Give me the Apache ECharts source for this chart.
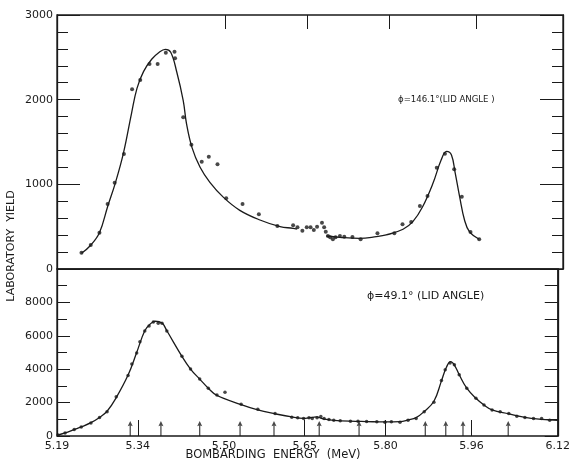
<!DOCTYPE html>
<html>
<head>
<meta charset="utf-8">
<script src="https://cdn.jsdelivr.net/npm/echarts@6/dist/echarts.min.js"></script>
<style>
  html, body { margin: 0; padding: 0; background: #fff; }
  #chart { width: 573px; height: 461px; }
</style>
</head>
<body>
<div id="chart"></div>
<script>
// energy tick labels (MeV)
const energyLabels = [5.19, 5.34, 5.50, 5.65, 5.80, 5.96, 6.12];

// phi = 146.1 deg, measured points
const topPointE = [5.235, 5.252, 5.268, 5.283, 5.296, 5.313, 5.328, 5.343, 5.360, 5.375,
  5.390, 5.406, 5.407, 5.422, 5.437, 5.456, 5.469, 5.485, 5.501, 5.531, 5.561, 5.595,
  5.624, 5.632, 5.641, 5.649, 5.656, 5.662, 5.668, 5.677, 5.681, 5.684, 5.688, 5.692,
  5.697, 5.702, 5.710, 5.718, 5.733, 5.748, 5.779, 5.810, 5.825, 5.841, 5.857, 5.871,
  5.888, 5.903, 5.920, 5.934, 5.950, 5.966];
const topPointY = [193, 283, 429, 768, 1020, 1358, 2122, 2232, 2421, 2421,
  2555, 2567, 2488, 1791, 1468, 1267, 1326, 1236, 835, 768, 646, 508,
  516, 492, 453, 492, 492, 461, 500, 547, 492, 441, 390, 374,
  351, 374, 390, 382, 378, 351, 421, 421, 528, 555, 744, 862,
  1197, 1362, 1177, 854, 437, 351];

// phi = 146.1 deg, fitted curve (null = pen lifted)
const topCurveE = [5.235, 5.251, 5.268, 5.283, 5.297, 5.312, 5.327, 5.337, 5.349, 5.364,
  5.379, 5.389, 5.399, 5.410, 5.422, 5.428, 5.438, 5.453, 5.471, 5.496, 5.526, 5.563,
  5.600, 5.624, 5.631, 5.660, 5.685, 5.710, 5.746, 5.777, 5.795, 5.826, 5.844,
  5.862, 5.881, 5.896, 5.906, 5.915, 5.922, 5.930, 5.939, 5.948, 5.966];
const topCurveY = [185, 275, 429, 736, 1012, 1366, 1839, 2134, 2331, 2477,
  2567, 2595, 2560, 2330, 1990, 1717, 1437, 1201, 1024, 846, 693, 579,
  500, 481, 470, null, 390, 374, 362, 382, 402, 469, 559,
  736, 1012, 1287, 1390, 1346, 1130, 854, 579, 441, 351];

// phi = 49.1 deg, measured points
const botPointE = [5.192, 5.205, 5.222, 5.235, 5.253, 5.269, 5.283, 5.300, 5.322, 5.329,
  5.338, 5.344, 5.353, 5.361, 5.369, 5.378, 5.385, 5.394, 5.422, 5.438, 5.455, 5.471,
  5.487, 5.502, 5.532, 5.563, 5.595, 5.626, 5.637, 5.648, 5.658, 5.664, 5.673, 5.680,
  5.686, 5.695, 5.704, 5.716, 5.735, 5.749, 5.765, 5.784, 5.799, 5.811, 5.827, 5.842,
  5.857, 5.872, 5.890, 5.904, 5.911, 5.920, 5.928, 5.937, 5.951, 5.968, 5.983, 5.998,
  6.013, 6.029, 6.044, 6.059, 6.075, 6.090, 6.105];
const botPointY = [60, 181, 387, 544, 785, 1111, 1450, 2356, 3624, 4312,
  4977, 5641, 6282, 6584, 6825, 6747, 6747, 6282, 4772, 4010, 3407, 2863,
  2458, 2621, 1897, 1595, 1353, 1129, 1087, 1051, 1087, 1051, 1087, 1172,
  1051, 991, 948, 906, 888, 888, 870, 846, 827, 846, 827, 948,
  1051, 1450, 2017, 3322, 3968, 4373, 4270, 3666, 2863, 2259, 1854, 1552,
  1450, 1353, 1190, 1111, 1051, 1051, 948];

// phi = 49.1 deg, fitted curve
const botCurveE = [5.190, 5.205, 5.222, 5.235, 5.253, 5.269, 5.283, 5.300, 5.322, 5.338,
  5.353, 5.363, 5.372, 5.385, 5.394, 5.422, 5.438, 5.455, 5.471, 5.487, 5.532, 5.563,
  5.595, 5.626, 5.648, 5.658, 5.664, 5.673, 5.680, 5.690, 5.704, 5.735, 5.765, 5.799,
  5.827, 5.842, 5.857, 5.872, 5.890, 5.904, 5.913, 5.921, 5.928, 5.937, 5.951, 5.968,
  5.983, 5.998, 6.029, 6.059, 6.090, 6.120];
const botCurveY = [40, 181, 387, 544, 800, 1111, 1480, 2300, 3650, 5000,
  6300, 6700, 6870, 6760, 6300, 4772, 4010, 3407, 2863, 2430, 1880, 1560,
  1330, 1140, 1060, 1090, 1110, 1150, 1070, 990, 940, 890, 865, 840,
  860, 960, 1100, 1470, 2080, 3300, 4100, 4450, 4250, 3666, 2863, 2259,
  1854, 1560, 1330, 1120, 1000, 930];

// resonance arrows along the energy axis (lower panel)
const arrowE = [5.326, 5.383, 5.455, 5.530, 5.593, 5.677, 5.751, 5.874, 5.912, 5.944, 6.028];

const ink = "#1a1a1a";
const font = "DejaVu Sans";

function zip(a, b) {
  return a.map((v, i) => [v, b[i]]);
}

const arrowPath = "path://M5,0 L9,7 L6,6 L6,20 L4,20 L4,6 L1,7 Z";

let chart = echarts.init(document.getElementById("chart"), null, { renderer: "canvas" });

const yLine = { show: true, lineStyle: { color: ink, width: 1.3 } };

const option = {
  backgroundColor: "#fff",
  animation: false,
  grid: [
    { left: 57, right: 10, top: 15, height: 254, show: true, borderColor: ink, borderWidth: 1.3 },
    { left: 57, right: 10, top: 269, height: 167, show: true, borderColor: ink, borderWidth: 1.3 }
  ],
  xAxis: [
    {
      gridIndex: 0,
      type: "value",
      position: "top",
      min: 5.19,
      max: 6.12,
      axisLine: { show: false, onZero: false },
      axisTick: { show: true, inside: true, length: 14, customValues: [5.50, 5.65, 5.80, 5.96], lineStyle: { color: ink } },
      axisLabel: { show: false },
      splitLine: { show: false }
    },
    {
      gridIndex: 1,
      type: "value",
      min: 5.19,
      max: 6.12,
      axisLine: { show: false, onZero: false },
      axisTick: { show: true, inside: true, length: 16, customValues: [5.34, 5.65, 5.80, 5.96], lineStyle: { color: ink } },
      axisLabel: {
        customValues: energyLabels,
        formatter: v => v.toFixed(2),
        color: ink,
        fontFamily: font,
        fontSize: 11,
        margin: 5
      },
      splitLine: { show: false }
    }
  ],
  yAxis: [
    {
      gridIndex: 0,
      type: "value",
      min: 0,
      max: 3000,
      interval: 1000,
      axisLine: yLine,
      axisTick: { show: true, inside: true, length: 23, lineStyle: { color: ink } },
      minorTick: { show: true, splitNumber: 5, length: 11, lineStyle: { color: ink } },
      axisLabel: { color: ink, fontFamily: font, fontSize: 11, margin: 4, formatter: v => String(v) },
      splitLine: { show: false }
    },
    {
      gridIndex: 0,
      type: "value",
      position: "right",
      min: 0,
      max: 3000,
      interval: 1000,
      axisLine: yLine,
      axisTick: { show: true, inside: true, length: 23, lineStyle: { color: ink } },
      minorTick: { show: true, splitNumber: 5, length: 11, lineStyle: { color: ink } },
      axisLabel: { show: false },
      splitLine: { show: false }
    },
    {
      gridIndex: 1,
      type: "value",
      min: 0,
      max: 10000,
      interval: 2000,
      axisLine: yLine,
      axisTick: { show: true, inside: true, length: 13, lineStyle: { color: ink } },
      minorTick: { show: true, splitNumber: 2, length: 10, lineStyle: { color: ink } },
      axisLabel: {
        color: ink,
        fontFamily: font,
        fontSize: 11,
        margin: 4,
        formatter: v => (v > 8000 ? "" : String(v))
      },
      splitLine: { show: false }
    },
    {
      gridIndex: 1,
      type: "value",
      position: "right",
      min: 0,
      max: 10000,
      interval: 1000,
      axisLine: yLine,
      axisTick: { show: true, inside: true, length: 13, lineStyle: { color: ink } },
      axisLabel: { show: false },
      splitLine: { show: false }
    }
  ],
  graphic: [
    {
      type: "text",
      left: 398,
      top: 95,
      style: { text: "ϕ=146.1°(LID ANGLE )", fill: ink, font: "9.5px 'DejaVu Sans Condensed', 'DejaVu Sans'" }
    },
    {
      type: "text",
      left: 367,
      top: 291,
      style: { text: "ϕ=49.1° (LID ANGLE)", fill: ink, font: "11px DejaVu Sans" }
    },
    {
      type: "text",
      x: 11,
      y: 246,
      rotation: Math.PI / 2,
      style: { text: "LABORATORY  YIELD", fill: ink, font: "11px DejaVu Sans", align: "center", verticalAlign: "middle" }
    },
    {
      type: "text",
      x: 273,
      y: 455,
      style: { text: "BOMBARDING  ENERGY  (MeV)", fill: ink, font: "11.5px DejaVu Sans", align: "center", verticalAlign: "middle" }
    }
  ],
  series: [
    {
      name: "top curve",
      type: "line",
      xAxisIndex: 0,
      yAxisIndex: 0,
      data: zip(topCurveE, topCurveY),
      smooth: 0.4,
      connectNulls: false,
      showSymbol: false,
      lineStyle: { color: ink, width: 1.3 }
    },
    {
      name: "top points",
      type: "scatter",
      xAxisIndex: 0,
      yAxisIndex: 0,
      data: zip(topPointE, topPointY),
      symbolSize: 4,
      itemStyle: { color: ink }
    },
    {
      name: "bottom curve",
      type: "line",
      xAxisIndex: 1,
      yAxisIndex: 2,
      data: zip(botCurveE, botCurveY),
      smooth: 0.4,
      showSymbol: false,
      lineStyle: { color: ink, width: 1.3 }
    },
    {
      name: "bottom points",
      type: "scatter",
      xAxisIndex: 1,
      yAxisIndex: 2,
      data: zip(botPointE, botPointY),
      symbolSize: 3.5,
      itemStyle: { color: ink }
    },
    {
      name: "arrows",
      type: "scatter",
      xAxisIndex: 1,
      yAxisIndex: 2,
      data: arrowE.map(e => [e, 0]),
      symbol: arrowPath,
      symbolSize: [5, 15],
      symbolOffset: [0, "-50%"],
      itemStyle: { color: ink }
    }
  ]
};

chart.setOption(option);
</script>
</body>
</html>
